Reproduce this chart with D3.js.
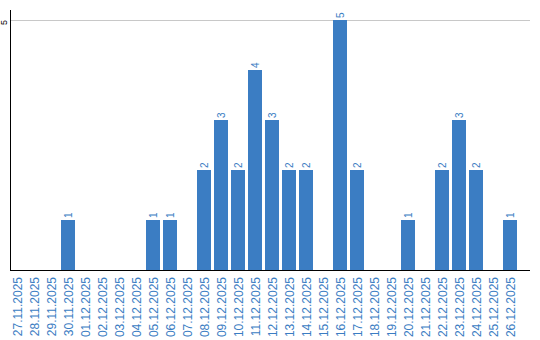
<!DOCTYPE html>
<html>
<head>
<meta charset="utf-8">
<script src="https://cdn.jsdelivr.net/npm/d3@7"></script>
<style>
  body { margin: 0; background: #fff; }
  svg { display: block; }
</style>
</head>
<body>
<div id="chart"></div>
<script>
var dates = ["27.11.2025", "28.11.2025", "29.11.2025", "30.11.2025", "01.12.2025",
    "02.12.2025", "03.12.2025", "04.12.2025", "05.12.2025", "06.12.2025",
    "07.12.2025", "08.12.2025", "09.12.2025", "10.12.2025", "11.12.2025",
    "12.12.2025", "13.12.2025", "14.12.2025", "15.12.2025", "16.12.2025",
    "17.12.2025", "18.12.2025", "19.12.2025", "20.12.2025", "21.12.2025",
    "22.12.2025", "23.12.2025", "24.12.2025", "25.12.2025", "26.12.2025"];
var counts = [0, 0, 0, 1, 0, 0, 0, 0, 1, 1,
    0, 2, 3, 2, 4, 3, 2, 2, 0, 5,
    2, 0, 0, 1, 0, 2, 3, 2, 0, 1];
var yTicks = [5];

var width = 540, height = 340;
var blue = "#3b7dc3";

var data = dates.map(function (d, i) {
    return { date: d, count: counts[i] };
});

var svg = d3.select("#chart")
    .append("svg")
    .attr("width", width)
    .attr("height", height);

var x = d3.scaleBand()
    .domain(dates)
    .range([10, 520]);

var y = d3.scaleLinear()
    .domain([0, 5])
    .range([270, 20]);

var barW = x.bandwidth() * 14 / 17;

// gridline
svg.selectAll("line.grid")
    .data(yTicks)
    .enter()
    .append("line")
    .attr("x1", 11)
    .attr("x2", 530)
    .attr("y1", function (d) { return y(d) + 0.5; })
    .attr("y2", function (d) { return y(d) + 0.5; })
    .attr("stroke", "#c8c8c8")
    .attr("stroke-width", 1);

svg.selectAll("text.ytick")
    .data(yTicks)
    .enter()
    .append("text")
    .attr("transform", function (d) { return "translate(7," + y(d) + ") rotate(-90)"; })
    .attr("text-anchor", "end")
    .style("font-family", "Liberation Sans, Arial, sans-serif")
    .style("font-size", "9px")
    .style("fill", "#000")
    .text(function (d) { return d; });

// bars
svg.selectAll("rect")
    .data(data)
    .enter()
    .append("rect")
    .attr("x", function (d) { return x(d.date); })
    .attr("y", function (d) { return y(d.count); })
    .attr("width", barW)
    .attr("height", function (d) { return y(0) - y(d.count); })
    .style("fill", blue);

// value labels
svg.selectAll("text.val")
    .data(data.filter(function (d) { return d.count > 0; }))
    .enter()
    .append("text")
    .attr("transform", function (d) {
        var cx = x(d.date) + barW / 2;
        return "translate(" + (cx + 3.5) + "," + (y(d.count) - 2) + ") rotate(-90)";
    })
    .style("font-family", "Liberation Sans, Arial, sans-serif")
    .style("font-size", "10px")
    .style("fill", blue)
    .text(function (d) { return d.count; });

// axes lines
svg.append("line")
    .attr("x1", 10.5).attr("x2", 10.5)
    .attr("y1", 10).attr("y2", 270.5)
    .attr("stroke", "#000");
svg.append("line")
    .attr("x1", 10).attr("x2", 530)
    .attr("y1", 270.5).attr("y2", 270.5)
    .attr("stroke", "#000");

// x labels
svg.selectAll("text.xlab")
    .data(dates)
    .enter()
    .append("text")
    .attr("transform", function (d) {
        return "translate(" + (x(d) + barW / 2 + 4.5) + ",277) rotate(-90)";
    })
    .attr("text-anchor", "end")
    .style("font-family", "Liberation Sans, Arial, sans-serif")
    .style("font-size", "12px")
    .style("fill", blue)
    .text(function (d) { return d; });
</script>
</body>
</html>
